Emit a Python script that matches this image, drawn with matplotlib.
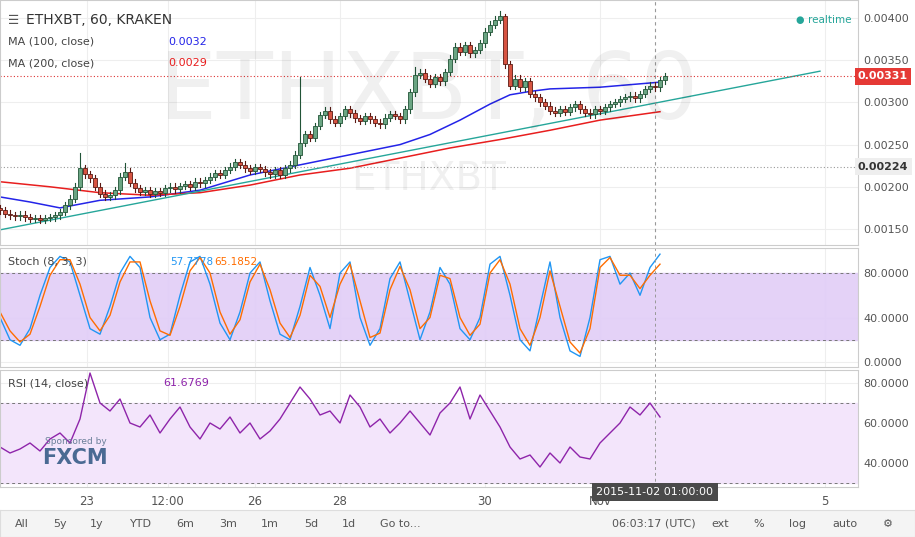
import matplotlib
matplotlib.use("Agg")
import matplotlib.pyplot as plt
import numpy as np
from matplotlib.patches import Rectangle

W, H = 915, 537
closes = [0.00172,0.00168,0.00166,0.00165,0.00167,0.00164,0.00162,0.00163,0.00161,0.00163,0.00164,0.00166,
0.00170,0.00178,0.00186,0.00200,0.00222,0.00215, 0.00210,0.00200,0.00192,0.00188,0.00190,0.00196,
0.00212,0.00218,0.00205,0.00198,0.00194,0.00196, 0.00192,0.00195,0.00193,0.00198,0.00200,0.00197,
0.00201,0.00203,0.00200,0.00206,0.00204,0.00208, 0.00212,0.00216,0.00214,0.00220,0.00224,0.00229,
0.00226,0.00222,0.00219,0.00223,0.00221,0.00217, 0.00215,0.00220,0.00214,0.00222,0.00226,0.00238,
0.00252,0.00262,0.00258,0.00272,0.00285,0.00290, 0.00280,0.00276,0.00284,0.00292,0.00287,0.00281,
0.00278,0.00284,0.00280,0.00276,0.00274,0.00282, 0.00286,0.00284,0.00280,0.00292,0.00312,0.00333,
0.00335,0.00328,0.00322,0.00330,0.00325,0.00336, 0.00352,0.00366,0.00360,0.00368,0.00358,0.00362,
0.00370,0.00384,0.00392,0.00398,0.00402,0.00345, 0.00320,0.00328,0.00318,0.00325,0.00310,0.00306,
0.00300,0.00296,0.00290,0.00288,0.00292,0.00289, 0.00294,0.00298,0.00292,0.00288,0.00286,0.00292,
0.00290,0.00294,0.00298,0.00300,0.00304,0.00306, 0.00308,0.00305,0.00310,0.00316,0.00320,0.00318,
0.00326,0.00331]
first_open = 0.00175
spike_highs = {16: 0.00240, 25: 0.00228, 60: 0.00330, 100: 0.00408, 101: 0.00405, 83: 0.00342}
ma_x = [0, 6, 12, 20, 30, 40, 50, 60, 70, 80, 86, 92, 98, 102, 106, 110, 120, 132]
ma100 = [0.00188,0.00182,0.00175,0.00184,0.00188,0.00196,0.00214,0.00226,0.00238,0.00250,0.00262,0.00279,
         0.00298,0.00309,0.00313,0.00316,0.00318,0.00324]
ma200_x = [0, 10, 20, 30, 40, 50, 60, 70, 80, 90, 100, 110, 120, 132]
ma200 = [0.00206,0.00200,0.00193,0.00190,0.00193,0.00202,0.00214,0.00222,0.00234,0.00246,0.00256,0.00267,0.00279,0.00289]
trend_x = [0, 164]
trend_y = [0.00149, 0.00337]
stoch_k = [40,20,15,30,60,85,95,90,60,30,25,50,80,95,85,40,20,25,60,90,95,70,35,20,45,80,90,55,25,20,50,85,60,30,80,90,
           40,15,30,75,90,55,20,45,85,70,30,20,40,88,95,60,20,10,50,90,40,10,5,40,92,95,70,80,60,85,97]
stoch_d = [45,28,18,25,50,78,92,92,70,40,28,42,72,90,90,55,28,24,50,82,94,80,45,25,38,72,88,65,35,22,42,78,68,40,70,88,
           55,22,26,65,86,65,30,40,78,75,40,24,34,80,92,70,30,15,40,82,50,18,8,30,85,94,78,78,66,78,88]
rsi = [48,45,47,50,46,52,55,50,62,85,70,66,72,60,58,64,55,62,68,58,52,60,57,63,55,60,52,56,62,70,
       78,72,64,66,60,74,68,58,62,55,60,66,60,54,65,70,78,62,74,66,58,48,42,44,38,45,40,48,43,42,
       50,55,60,68,64,70,63]
date_ticks = [17.4, 33.6, 51, 68, 97, 120, 165]
date_labels = ["23", "12:00", "26", "28", "30", "Nov", "5"]
price_ticks = [0.00150, 0.00200, 0.00250, 0.00300, 0.00350, 0.00400]

fig = plt.figure(figsize=(W/100, H/100), dpi=100)
fig.patch.set_facecolor("white")
def ax_px(x0, y0, x1, y1):
    return fig.add_axes([x0/W, 1-y1/H, (x1-x0)/W, (y1-y0)/H])
XMAX = 858/5
tc = "#555555"

def label(x, y_top, s, color="#444", size=8, **kw):
    fig.text(x/W, 1-y_top/H, s, fontsize=size, color=color, va="center", **kw)

# main
ax = ax_px(0, 0, 858, 245)
opens = [first_open] + closes[:-1]
for i, (o, c) in enumerate(zip(opens, closes)):
    up = c >= o
    hi = spike_highs.get(i, max(o, c) + 0.00004)
    lo = min(o, c) - 0.00004
    fc = "#6ba583" if up else "#d75442"
    ec = "#225437" if up else "#5b1a13"
    ax.plot([i, i], [lo, hi], color=ec, lw=0.8, zorder=3)
    ax.add_patch(Rectangle((i-0.35, min(o, c)), 0.7, max(abs(c-o), 0.000008), fc=fc, ec=ec, lw=0.6, zorder=4))
ax.plot(ma_x, ma100, color="#2424e8", lw=1.1, zorder=2)
ax.plot(ma200_x, ma200, color="#e81e1e", lw=1.1, zorder=2)
ax.plot(trend_x, trend_y, color="#26a69a", lw=1, zorder=2)
ax.axhline(0.00331, color="#d33", ls=(0, (1, 2)), lw=0.8)
ax.axhline(0.00224, color="#999", ls=(0, (1, 2)), lw=0.8)
ax.set_xlim(0, XMAX)
ax.set_ylim(0.004 - (245-18)/42.2*0.0005, 0.004 + 18/42.2*0.0005)
ax.text(0.5, 0.62, "ETHXBT, 60", transform=ax.transAxes, fontsize=66, color="#000", alpha=0.06, ha="center", va="center")
ax.text(0.5, 0.27, "ETHXBT", transform=ax.transAxes, fontsize=28, color="#000", alpha=0.06, ha="center", va="center")

def style(a, ticks, fmt):
    a.yaxis.tick_right()
    a.set_yticks(ticks)
    a.set_yticklabels([fmt(t) for t in ticks], fontsize=8, color=tc)
    a.tick_params(axis="y", length=0, pad=4)
    a.set_xticks(date_ticks)
    a.tick_params(axis="x", length=0, labelbottom=False)
    a.grid(True, color="#eeeeee", lw=0.8)
    for s in a.spines.values():
        s.set_color("#cccccc")
    a.set_axisbelow(True)
style(ax, price_ticks, lambda t: f"{t:.5f}")
ax.axvline(131, color="#999", ls=(0, (3, 3)), lw=0.8)
for val, col in [(0.00331, "#e53935"), (0.00224, "#eeeeee")]:
    ax.text(1.0, val, f"{val:.5f}", transform=ax.get_yaxis_transform(), fontsize=8,
            color="white" if col != "#eeeeee" else "#333", va="center", ha="left",
            bbox=dict(boxstyle="square,pad=0.3", fc=col, ec="none"), fontweight="bold")

label(8, 20, "☰", "#555", 9)
label(26, 20, "ETHXBT, 60, KRAKEN", "#333", 10)
label(8, 42, "MA (100, close)")
label(168, 42, "0.0032", "#2424e8")
label(8, 63, "MA (200, close)")
label(168, 63, "0.0029", "#e81e1e")
label(808, 20, "realtime", "#26a69a", 7.5)
label(795, 20, "●", "#26a69a", 7)

# stoch
ax2 = ax_px(0, 248, 858, 367)
sx = np.arange(len(stoch_k))*2
ax2.axhspan(20, 80, color="#e1cdf7", alpha=0.9)
ax2.axhline(80, color="#777", ls=(0, (3, 3)), lw=0.7)
ax2.axhline(20, color="#777", ls=(0, (3, 3)), lw=0.7)
ax2.plot(sx, stoch_k, color="#2196f3", lw=1)
ax2.plot(sx, stoch_d, color="#ff6d00", lw=1)
ax2.set_xlim(0, XMAX)
ax2.set_ylim(0-(367-362)/1.11, 80+(273-248)/1.11)
style(ax2, [0, 40, 80], lambda t: f"{t:.4f}")
ax2.axvline(131, color="#999", ls=(0, (3, 3)), lw=0.7)
label(8, 262, "Stoch (8, 3, 3)")
label(170, 262, "57.7778", "#2196f3", 7.5)
label(214, 262, "65.1852", "#ff6d00", 7.5)

# rsi
ax3 = ax_px(0, 370, 858, 487)
rx = np.arange(len(rsi))*2
ax3.axhspan(30, 70, color="#f3e5fb", alpha=1)
ax3.axhline(70, color="#777", ls=(0, (3, 3)), lw=0.7)
ax3.axhline(30, color="#777", ls=(0, (3, 3)), lw=0.7)
ax3.plot(rx, rsi, color="#8e24aa", lw=1)
ax3.set_xlim(0, XMAX)
ax3.set_ylim(40-(487-463)/2, 80+(383-370)/2)
style(ax3, [40, 60, 80], lambda t: f"{t:.4f}")
ax3.axvline(131, color="#999", ls=(0, (3, 3)), lw=0.7)
ax3.tick_params(axis="x", labelbottom=True, labelsize=8.5, labelcolor=tc, pad=6)
ax3.set_xticklabels(date_labels)
label(8, 383, "RSI (14, close)")
label(163, 383, "61.6769", "#8e24aa")
label(45, 441, "Sponsored by", "#6a7f99", 6.5)
label(42, 458, "FXCM", "#4a6a93", 15, fontweight="bold")
ax3.text(131, 0.0, "2015-11-02 01:00:00", transform=ax3.get_xaxis_transform(), fontsize=8,
         color="white", ha="center", va="top", bbox=dict(boxstyle="square,pad=0.4", fc="#4a4a4a", ec="none"))

# bottom toolbar
tb = ax_px(0, 510, 915, 537)
tb.set_xlim(0, W); tb.set_ylim(0, 27)
tb.set_facecolor("#f4f4f4")
tb.set_xticks([]); tb.set_yticks([])
for s in tb.spines.values():
    s.set_color("#dddddd")
for x, t in [(22, "All"), (60, "5y"), (97, "1y"), (141, "YTD"), (185, "6m"), (228, "3m"), (270, "1m"),
             (311, "5d"), (349, "1d"), (400, "Go to..."), (654, "06:03:17 (UTC)"), (720, "ext"),
             (759, "%"), (798, "log"), (845, "auto"), (888, "⚙")]:
    tb.text(x, 13, t, ha="center", va="center", fontsize=8, color="#555")
fig.savefig("out.png", dpi=100)
